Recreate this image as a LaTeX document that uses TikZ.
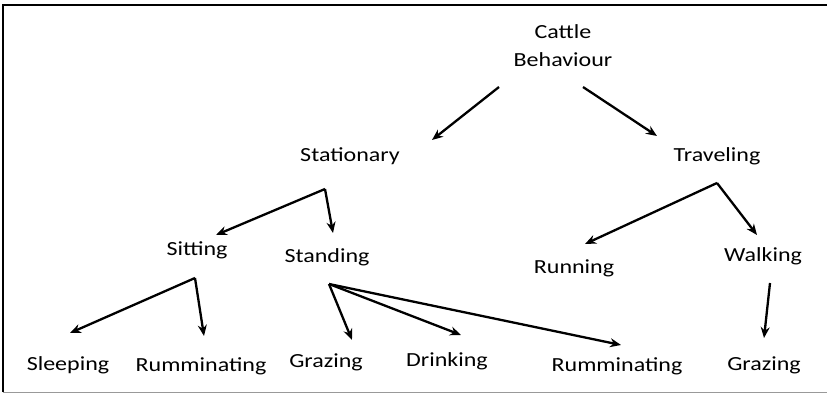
\documentclass[tikz,border=0pt]{standalone}
\usepackage{fontspec}
\setmainfont{Carlito}[FakeStretch=1.2]
\usepackage{tikz}
\usetikzlibrary{arrows.meta,positioning,calc}

\begin{document}
\begin{tikzpicture}[
    x=1pt, y=-1pt,
    lbl/.style={inner sep=0pt, align=center, font=\fontsize{20}{28}\selectfont, text=black},
    arrow/.style={-{Stealth[length=11pt,width=9pt]}, line width=2.3pt, draw=black}
]
\useasboundingbox (0,0) rectangle (827,395);
\draw[line width=1.2pt] (3,392) -- (3,5) -- (827,5);
\draw[black!40, line width=1pt] (3,392) -- (827,392);

\node[lbl] (cattle) at (563,46) {Cattle\\Behaviour};
\node[lbl] (stat) at (350,156) {Stationary};
\node[lbl] (trav) at (717,156) {Traveling};
\node[lbl] (sit) at (197,250) {Sitting};
\node[lbl] (stand) at (327,257) {Standing};
\node[lbl] (run) at (574,268) {Running};
\node[lbl] (walk) at (763,256) {Walking};
\node[lbl] (sleep) at (68,365) {Sleeping};
\node[lbl] (rumsit) at (201,366) {Rumminating};
\node[lbl] (grazestand) at (326,362) {Grazing};
\node[lbl] (drink) at (447,361) {Drinking};
\node[lbl] (rumstand) at (617,366) {Rumminating};
\node[lbl] (grazewalk) at (764,365) {Grazing};

% forks under the parent labels
\coordinate (statfork) at ($(stat)+(-25,33)$);
\coordinate (travfork) at ($(trav)+(0,27)$);
\coordinate (sitfork) at ($(sit)+(-2,28)$);
\coordinate (standfork) at ($(stand)+(2,27)$);

\draw[arrow] ($(cattle)+(-64,41)$) -- ($(stat)+(82,-16)$);
\draw[arrow] ($(cattle)+(20,41)$) -- ($(trav)+(-60,-20)$);
\draw[arrow] (statfork) -- ($(sit)+(19,-15)$);
\draw[arrow] (statfork) -- ($(stand)+(6,-24)$);
\draw[arrow] (travfork) -- ($(run)+(11,-24)$);
\draw[arrow] (travfork) -- ($(walk)+(-6,-21)$);
\draw[arrow] (sitfork) -- ($(sleep)+(2,-32)$);
\draw[arrow] (sitfork) -- ($(rumsit)+(3,-30)$);
\draw[arrow] (standfork) -- ($(grazestand)+(26,-22)$);
\draw[arrow] (standfork) -- ($(drink)+(14,-26)$);
\draw[arrow] (standfork) -- ($(rumstand)+(4,-21)$);
\draw[arrow] ($(walk)+(7,27)$) -- ($(grazewalk)+(0,-27)$);
\end{tikzpicture}
\end{document}
